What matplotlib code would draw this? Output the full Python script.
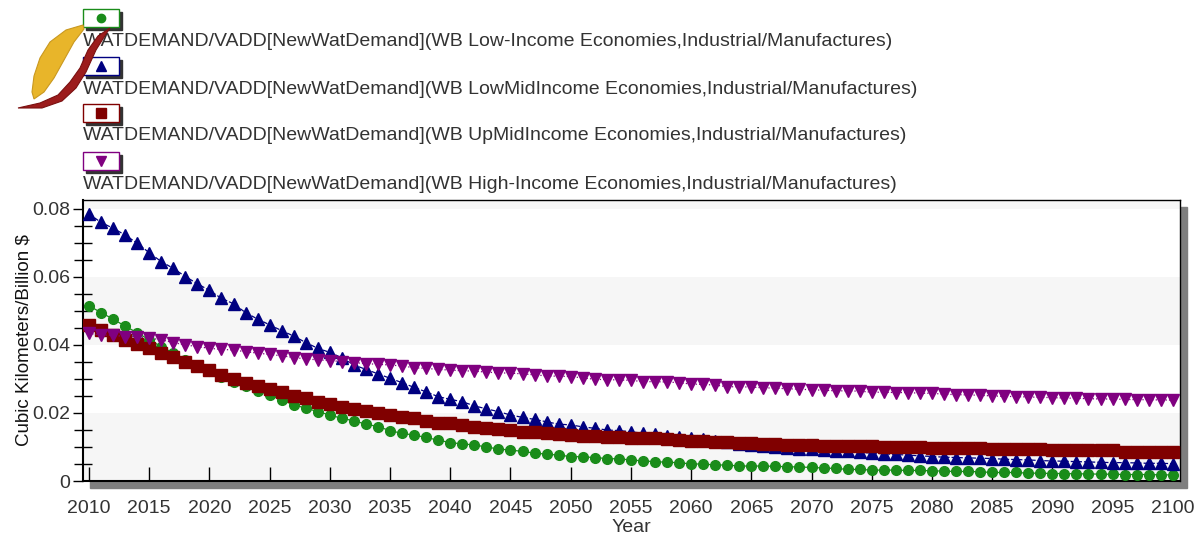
import numpy as np
import matplotlib.pyplot as plt
from matplotlib.patches import Rectangle, Polygon
from matplotlib.ticker import MultipleLocator, FixedLocator

plt.rcParams['font.family'] = ['Liberation Sans', 'DejaVu Sans']

years = list(range(2010, 2101))

low_income = [
    .0515, .0495, .0476, .0455, .0436, .0415, .0395, .0376, .0356, .0338,
    .0324, .0307, .0292, .0279, .0266, .0253, .0238, .0224, .0214, .0204,
    .0194, .0184, .0177, .0167, .0160, .0148, .0140, .0135, .0128, .0120,
    .0113, .0109, .0106, .0100, .0094, .0091, .0087, .0082, .0079, .0076,
    .0072, .0071, .0069, .0066, .0065, .0062, .0059, .0057, .0055, .0054,
    .0050, .0050, .0047, .0047, .0044, .0044, .0044, .0043, .0042, .0041,
    .0040, .0038, .0037, .0034, .0034, .0032, .0032, .0032, .0031, .0031,
    .0030, .0029, .0028, .0028, .0027, .0025, .0025, .0025, .0023, .0023,
    .0022, .0022, .0021, .0021, .0020, .0020, .0019, .0019, .0019, .0018, .0018]

lowmid_income = [
    .0785, .0760, .0743, .0723, .0699, .0671, .0645, .0625, .0601, .0580,
    .0560, .0537, .0521, .0495, .0476, .0459, .0442, .0426, .0407, .0390,
    .0378, .0362, .0341, .0328, .0315, .0302, .0289, .0275, .0262, .0248,
    .0240, .0233, .0221, .0212, .0204, .0194, .0187, .0181, .0174, .0167,
    .0165, .0159, .0155, .0150, .0148, .0145, .0140, .0137, .0133, .0130,
    .0126, .0122, .0118, .0114, .0110, .0107, .0104, .0101, .0098, .0095,
    .0093, .0091, .0089, .0087, .0084, .0082, .0080, .0078, .0076, .0074,
    .0072, .0070, .0069, .0068, .0067, .0066, .0064, .0063, .0062, .0060,
    .0059, .0058, .0057, .0056, .0055, .0054, .0054, .0053, .0052, .0052, .0051]

upmid_income = [
    .0459, .0444, .0429, .0415, .0403, .0390, .0376, .0364, .0351, .0339,
    .0326, .0312, .0300, .0289, .0279, .0270, .0263, .0250, .0243, .0233,
    .0226, .0218, .0212, .0206, .0201, .0194, .0189, .0184, .0177, .0171,
    .0170, .0165, .0160, .0155, .0152, .0150, .0145, .0143, .0140, .0138,
    .0135, .0133, .0132, .0130, .0128, .0127, .0126, .0125, .0123, .0121,
    .0119, .0117, .0114, .0114, .0111, .0111, .0109, .0109, .0106, .0106,
    .0106, .0103, .0103, .0103, .0103, .0103, .0101, .0101, .0101, .0101,
    .0096, .0096, .0096, .0096, .0096, .0093, .0093, .0093, .0093, .0093,
    .0091, .0091, .0091, .0091, .0091, .0091, .0086, .0086, .0086, .0086, .0086]

high_income = [
    .0434, .0429, .0429, .0424, .0424, .0420, .0415, .0407, .0400, .0395,
    .0390, .0387, .0385, .0380, .0376, .0372, .0368, .0363, .0359, .0356,
    .0354, .0351, .0348, .0345, .0343, .0341, .0338, .0333, .0331, .0328,
    .0326, .0324, .0323, .0320, .0318, .0317, .0315, .0312, .0309, .0308,
    .0307, .0303, .0299, .0298, .0297, .0296, .0292, .0292, .0291, .0289,
    .0285, .0284, .0282, .0277, .0277, .0276, .0274, .0273, .0271, .0270,
    .0268, .0267, .0265, .0265, .0264, .0261, .0261, .0260, .0260, .0258,
    .0258, .0255, .0254, .0253, .0252, .0250, .0249, .0248, .0247, .0246,
    .0245, .0244, .0243, .0242, .0241, .0241, .0240, .0239, .0239, .0238, .0238]

labels = [
    "WATDEMAND/VADD[NewWatDemand](WB Low-Income Economies,Industrial/Manufactures)",
    "WATDEMAND/VADD[NewWatDemand](WB LowMidIncome Economies,Industrial/Manufactures)",
    "WATDEMAND/VADD[NewWatDemand](WB UpMidIncome Economies,Industrial/Manufactures)",
    "WATDEMAND/VADD[NewWatDemand](WB High-Income Economies,Industrial/Manufactures)",
]
series = [low_income, lowmid_income, upmid_income, high_income]
colors = ["#1a8c1a", "#000080", "#800000", "#800080"]
markers = ["o", "^", "s", "v"]
msizes = [7, 8.5, 8, 8.5]
lstyles = ["-", "--", "-", ":"]

W, H = 1204, 537
fig = plt.figure(figsize=(W / 100, H / 100), dpi=100)

def px(x, y):
    return (x / W, 1 - y / H)

# axes placed in pixel units
ax_l, ax_r, ax_t, ax_b = 83, 1180, 200, 481
ax = fig.add_axes([ax_l / W, 1 - ax_b / H, (ax_r - ax_l) / W, (ax_b - ax_t) / H])
ax.set_zorder(2)

# drop shadow behind the plot frame
fig.patches.append(Rectangle(px(ax_l + 7, ax_b + 7), (ax_r - ax_l) / W, (ax_b - ax_t) / H,
                             transform=fig.transFigure, color="#7f7f7f", zorder=-1))

ymax = 0.0826
for lo in [0.0, 0.04, 0.08]:
    ax.axhspan(lo, min(lo + 0.02, ymax), color="#f6f6f6", zorder=0, lw=0)

for i in range(4):
    ax.plot(years, series[i], color=colors[i], marker=markers[i], ms=msizes[i],
            ls=lstyles[i], lw=0.9, mec=colors[i], zorder=3)

ax.set_xlim(2009.5, 2100.6)
ax.set_ylim(0, ymax)
ax.xaxis.set_major_locator(MultipleLocator(5))
ax.yaxis.set_major_locator(FixedLocator([0, 0.02, 0.04, 0.06, 0.08]))
ax.yaxis.set_minor_locator(MultipleLocator(0.005))
ax.set_yticklabels(["0", "0.02", "0.04", "0.06", "0.08"])
ax.tick_params(axis="x", direction="in", length=10, width=1, labelsize=14,
               labelcolor="#333333", pad=14)
ax.tick_params(axis="y", which="major", direction="out", length=7, width=1,
               labelsize=14, labelcolor="#333333", pad=2)
ax.tick_params(axis="y", which="minor", direction="inout", length=13, width=1)
for s in ["top", "right"]:
    ax.spines[s].set_linewidth(1)
ax.spines["left"].set_linewidth(1.5)
ax.spines["bottom"].set_linewidth(1.5)
ax.set_xlabel("Year", fontsize=14, color="#333333", labelpad=1)
ax.set_ylabel("Cubic Kilometers/Billion $", fontsize=13.5, color="#111111", labelpad=0)

# legend-like header: boxed marker above each series name
box_tops = [9, 57, 104, 152]
text_y = [42, 89, 136, 184]
for i in range(4):
    bx, by = 83, box_tops[i]
    fig.patches.append(Rectangle(px(bx + 3, by + 21), 36 / W, 18 / H,
                                 transform=fig.transFigure, color="#333333", zorder=1))
    fig.patches.append(Rectangle(px(bx, by + 18), 36 / W, 18 / H, transform=fig.transFigure,
                                 facecolor="white", edgecolor=colors[i], lw=1, zorder=2))
    fig.lines.append(plt.Line2D([(bx + 18) / W], [1 - (by + 9) / H], transform=fig.transFigure,
                                marker=markers[i], ms=msizes[i] - 1, color=colors[i], zorder=3))
    fig.text(83 / W, 1 - text_y[i] / H, labels[i], fontsize=14, color="#333333",
             va="center", ha="left", zorder=2)

# logo swoosh in top-left corner
yellow = [(83, 25), (66, 30), (50, 42), (40, 58), (34, 76), (32, 92), (34, 99),
          (44, 92), (54, 78), (64, 60), (74, 42), (84, 29)]
red = [(110, 28), (98, 36), (88, 50), (80, 68), (70, 82), (58, 95), (40, 103), (18, 108),
       (42, 108), (62, 101), (76, 88), (86, 72), (96, 50), (106, 34)]
fig.patches.append(Polygon([px(x, y) for x, y in yellow], closed=True, transform=fig.transFigure,
                           facecolor="#e8b52a", edgecolor="#c9981f", lw=0.8, zorder=4))
fig.patches.append(Polygon([px(x, y) for x, y in red], closed=True, transform=fig.transFigure,
                           facecolor="#9c1c1c", edgecolor="#7a1010", lw=0.8, zorder=5))

fig.savefig("out.png", dpi=100)
